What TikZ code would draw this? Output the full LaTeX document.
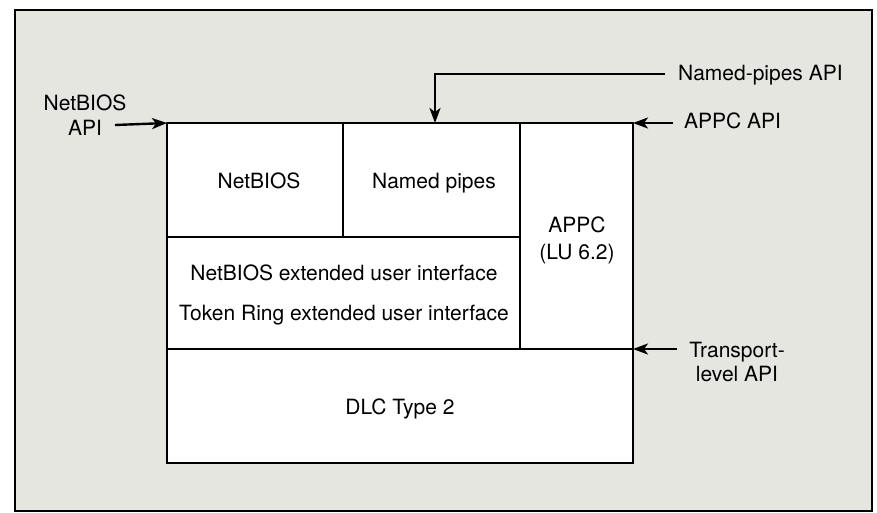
\documentclass[tikz,border=0pt]{standalone}
\usepackage{fontspec}
\setmainfont{TeX Gyre Heros}
\usetikzlibrary{arrows.meta}
\definecolor{fondo}{RGB}{230,230,224}

\begin{document}
\begin{tikzpicture}[x=1pt, y=-1pt, >={Stealth[length=15pt, width=11pt, inset=4pt]}, line width=2.4pt,
  lbl/.style={font=\fontsize{21}{25}\selectfont, align=center, inner sep=0pt}]
  \useasboundingbox (0,0) rectangle (877,512);
  % fondo y marco
  \fill[white] (0,0) rectangle (877,512);
  \draw[fill=fondo, line width=2pt] (15,10) rectangle (872,511);
  % bloque principal
  \coordinate (tl) at (167,123);
  \coordinate (tr) at (633,123);
  \coordinate (mr) at (633,349);
  \draw[fill=white] (tl) rectangle (633,463);
  \draw (167,237) -- (520,237);
  \draw (343,123) -- (343,237);
  \draw (520,123) -- (520,349);
  \draw (167,349) -- (mr);
  % capas
  \node[lbl, anchor=base] (nb) at (259,188.5) {NetBIOS};
  \node[lbl, anchor=base] (np) at (434,188.5) {Named pipes};
  \node[lbl, font=\fontsize{21}{27}\selectfont] (appc) at (577,240.5) {APPC\\(LU 6.2)};
  \node[lbl, anchor=base] (nbext) at (344,280.5) {NetBIOS extended user interface};
  \node[lbl, anchor=base] (trext) at (344,320.5) {Token Ring extended user interface};
  \node[lbl, anchor=base] (dlc) at (400,414.5) {DLC Type 2};
  % interfaces (API)
  \node[lbl] (nbapi) at (85,115.5) {NetBIOS\\API};
  \coordinate (nbout) at (115,125);
  \draw[->] (nbout) -- (tl);
  \node[lbl, anchor=base west] (npapi) at (677,80) {Named-pipes API};
  \coordinate (npout) at (665,74);
  \coordinate (npin) at (435,123);
  \draw[->] (npout) -| (npin);
  \node[lbl, anchor=base west] (appcapi) at (683,128.5) {APPC API};
  \coordinate (appcout) at (673,123);
  \draw[->] (appcout) -- (tr);
  \node[lbl, font=\fontsize{21}{24}\selectfont] (tapi) at (737,362) {Transport-\\level API};
  \coordinate (tout) at (677,349);
  \draw[->] (tout) -- (mr);
\end{tikzpicture}
\end{document}
